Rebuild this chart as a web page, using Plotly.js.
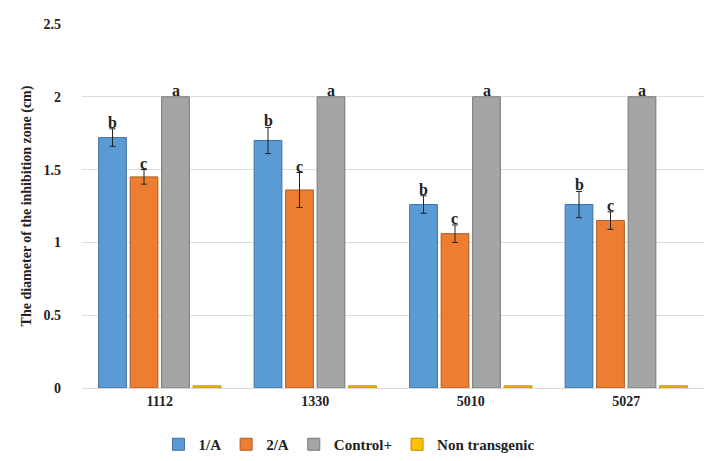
<!DOCTYPE html>
<html><head><meta charset="utf-8">
<script src="https://cdn.plot.ly/plotly-3.0.1.min.js"></script>
<style>body{margin:0;background:#fff}#c{width:704px;height:461px}</style>
</head><body><div id="c"></div>
<script>
const categories = ['1112', '1330', '5010', '5027'];
const seriesNames = ['1/A', '2/A', 'Control+', 'Non transgenic'];
const valA1 = [1.72, 1.70, 1.26, 1.26];
const errA1 = [0.06, 0.09, 0.06, 0.09];
const valA2 = [1.45, 1.36, 1.06, 1.15];
const errA2 = [0.05, 0.12, 0.06, 0.06];
const valCtrl = [2.0, 2.0, 2.0, 2.0];
const errCtrl = [0, 0, 0, 0];
const valNon = [0.015, 0.015, 0.015, 0.015];
const lettersA1 = ['b', 'b', 'b', 'b'];
const lettersA2 = ['c', 'c', 'c', 'c'];
const lettersCtrl = ['a', 'a', 'a', 'a'];

const colors = ['#5B9BD5', '#ED7D31', '#A5A5A5', '#FFC000'];
const lines = ['#41719C', '#AE5A21', '#787878', '#BC8C00'];
const vals = [valA1, valA2, valCtrl, valNon];
const errs = [errA1, errA2, errCtrl, null];

const traces = vals.map((v, i) => ({
  type: 'bar', x: categories, y: v, name: seriesNames[i],
  marker: {color: colors[i], line: {color: lines[i], width: 1}},
  error_y: errs[i] ? {type: 'data', array: errs[i], visible: errs[i].some(e => e > 0), color: '#222', thickness: 1, width: 3} : {visible: false}
}));

const annotations = [];
const letterSets = [lettersA1, lettersA2, lettersCtrl];
const shifts = [-47, -16, 16];
letterSets.forEach((ls, i) => {
  ls.forEach((t, j) => {
    annotations.push({
      x: j, y: vals[i][j] + errs[i][j], xref: 'x', yref: 'y',
      text: t, showarrow: false, yanchor: 'bottom', xshift: shifts[i], yshift: -4,
      font: {family: 'Liberation Serif', size: 16, color: '#222', weight: 'bold'}
    });
  });
});

const layout = {
  width: 704, height: 461,
  margin: {l: 82, r: 0, t: 24, b: 71},
  paper_bgcolor: '#fff', plot_bgcolor: '#fff',
  barmode: 'group', bargap: 0.19, bargroupgap: 0.12,
  showlegend: true,
  legend: {orientation: 'h', x: 0.43, xanchor: 'center', y: -0.11, yanchor: 'top',
    font: {family: 'Liberation Serif', size: 15, color: '#222', weight: 'bold'}, traceorder: 'normal', itemwidth: 30},
  xaxis: {type: 'category', range: [-0.5, 3.5], showgrid: false, showline: true, linecolor: '#d9d9d9', ticks: '',
    tickfont: {family: 'Liberation Serif', size: 14, color: '#222', weight: 'bold'}},
  yaxis: {range: [0, 2.5], dtick: 0.5, showgrid: true, gridcolor: '#dcdcdc', zeroline: false,
    tickfont: {family: 'Liberation Serif', size: 14, color: '#222', weight: 'bold'},
    ticklabelstandoff: 20,
    title: {text: 'The diameter of the inhibition zone (cm)', standoff: 8,
      font: {family: 'Liberation Serif', size: 14, color: '#222', weight: 'bold'}}},
  annotations: annotations
};
Plotly.newPlot('c', traces, layout, {displayModeBar: false});
</script></body></html>
